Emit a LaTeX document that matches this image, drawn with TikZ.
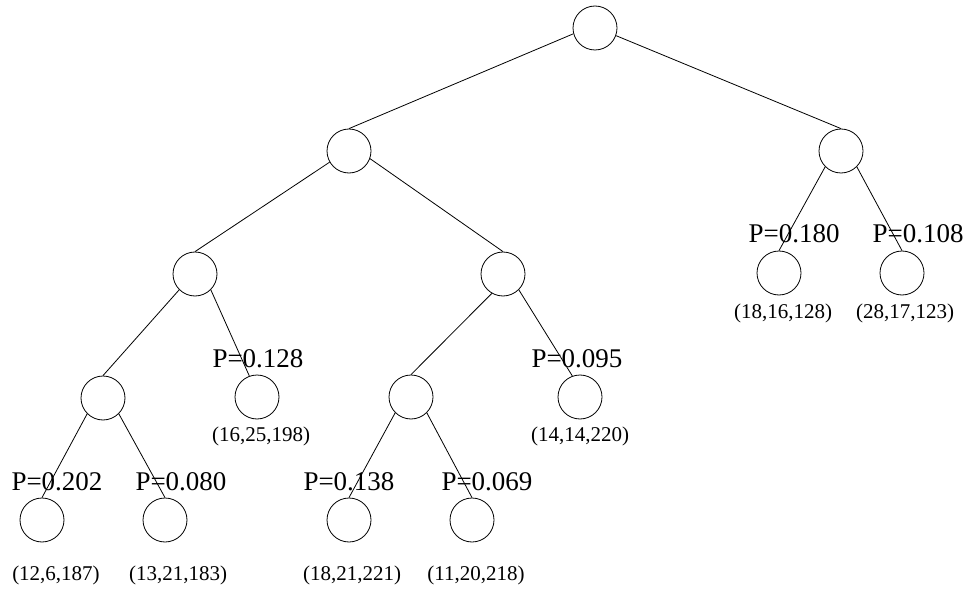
\documentclass[tikz,border=0pt]{standalone}
\usepackage{fontspec}
\setmainfont{Liberation Serif}
\tikzset{
  vertex/.style={circle,draw,minimum size=44pt,inner sep=0pt},
  prob/.style={font=\fontsize{27}{30}\selectfont,anchor=base,inner sep=0pt},
  triple/.style={font=\fontsize{21}{24}\selectfont,anchor=base,inner sep=0pt}
}
\begin{document}
\begin{tikzpicture}[x=1pt,y=-1pt,line width=0.8pt]
\useasboundingbox (0,0) rectangle (970,591);

% inner vertices
\node[vertex] (root) at (595,28) {};
\node[vertex] (nL)   at (349,151) {};
\node[vertex] (nR)   at (841,151) {};
\node[vertex] (nLL)  at (195,274) {};
\node[vertex] (nLR)  at (503,274) {};
\node[vertex] (nLLL) at (103,398) {};
\node[vertex] (nLRL) at (411,397) {};

% leaves
\node[vertex] (leafA) at (42,520) {};
\node[vertex] (leafB) at (165,520) {};
\node[vertex] (leafC) at (257,397) {};
\node[vertex] (leafD) at (349,520) {};
\node[vertex] (leafE) at (472,520) {};
\node[vertex] (leafF) at (580,397) {};
\node[vertex] (leafG) at (779,273) {};
\node[vertex] (leafH) at (902,273) {};

% edges
\draw (root.195) -- (nL.north);
\draw (root.340) -- (nR.north);
\draw (nL.210) -- (nLL.north);
\draw (nL.340) -- (nLR.north);
\draw (nLL.south west) -- (nLLL.north);
\draw (nLL.south east) -- (leafC.110);
\draw (nLR.240) -- (nLRL.north);
\draw (nLR.south east) -- (leafF.110);
\draw (nLLL.south west) -- (leafA.north);
\draw (nLLL.south east) -- (leafB.north);
\draw (nLRL.south west) -- (leafD.north);
\draw (nLRL.south east) -- (leafE.north);
\draw (nR.south west) -- (leafG.north);
\draw (nR.south east) -- (leafH.north);

% probabilities
\node[prob] (pA) at (57,490) {P=0.202};
\node[prob] (pB) at (181,490) {P=0.080};
\node[prob] (pC) at (258,367) {P=0.128};
\node[prob] (pD) at (349,490) {P=0.138};
\node[prob] (pE) at (487,490) {P=0.069};
\node[prob] (pF) at (577,367) {P=0.095};
\node[prob] (pG) at (794,243) {P=0.180};
\node[prob] (pH) at (918,243) {P=0.108};

% triples
\node[triple] (tA) at (56,580) {(12,6,187)};
\node[triple] (tB) at (178,580) {(13,21,183)};
\node[triple] (tC) at (261,441) {(16,25,198)};
\node[triple] (tD) at (352,580) {(18,21,221)};
\node[triple] (tE) at (476,580) {(11,20,218)};
\node[triple] (tF) at (580,441) {(14,14,220)};
\node[triple] (tG) at (783,318) {(18,16,128)};
\node[triple] (tH) at (905,318) {(28,17,123)};

\end{tikzpicture}
\end{document}
